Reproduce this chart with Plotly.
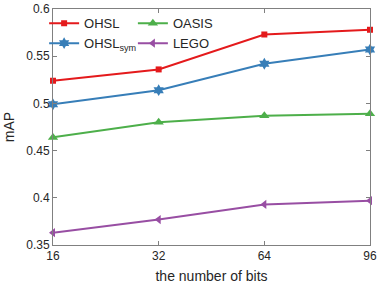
import plotly.graph_objects as go

bits = ["16", "32", "64", "96"]
ohsl = [0.524, 0.536, 0.573, 0.578]
ohsl_sym = [0.499, 0.514, 0.542, 0.557]
oasis = [0.464, 0.480, 0.487, 0.489]
lego = [0.363, 0.377, 0.393, 0.397]
y_ticks = [0.35, 0.4, 0.45, 0.5, 0.55, 0.6]
y_tick_labels = ["0.35", "0.4", "0.45", "0.5", "0.55", "0.6"]

font = "Liberation Sans, Arial, sans-serif"
fig = go.Figure()
series = [
    ("OHSL", ohsl, "#E41A1C", "square", 6, "legend"),
    ("OHSL<sub>sym</sub>", ohsl_sym, "#377EB8", "hexagram", 9, "legend"),
    ("OASIS", oasis, "#4DAF4A", "triangle-up", 9, "legend2"),
    ("LEGO", lego, "#984EA3", "triangle-left", 8, "legend2"),
]
for name, vals, col, sym, sz, lg in series:
    fig.add_trace(go.Scatter(
        x=bits, y=vals, name=name, mode="lines+markers",
        line=dict(color=col, width=2),
        marker=dict(symbol=sym, size=sz, color=col),
        legend=lg, cliponaxis=False,
    ))

axis_common = dict(
    showline=True, linecolor="#808080", linewidth=1, mirror="ticks",
    ticks="inside", ticklen=4, tickcolor="#808080", showgrid=False,
    zeroline=False, tickfont=dict(family=font, size=12, color="#262626"),
    automargin=False,
)
fig.update_xaxes(**axis_common, range=[0.0, 3.0],
                 title=dict(text="the number of bits", font=dict(family=font, size=14, color="#262626"), standoff=8))
fig.update_yaxes(**axis_common, range=[0.35, 0.6], tickvals=y_ticks, ticktext=y_tick_labels,
                 title=dict(text="mAP", font=dict(family=font, size=14, color="#262626"), standoff=8))

leg_common = dict(bgcolor="rgba(0,0,0,0)", borderwidth=0,
                  font=dict(family=font, size=13, color="#262626"),
                  xanchor="left", yanchor="top", tracegroupgap=0, itemwidth=30)
fig.update_layout(
    width=382, height=287,
    margin=dict(l=53, r=12, t=9, b=42, autoexpand=False),
    plot_bgcolor="white", paper_bgcolor="white",
    legend=dict(x=-0.028, y=1.003, **leg_common),
    legend2=dict(x=0.252, y=1.003, **leg_common),
    font=dict(family=font),
)
fig.write_html("out.html", config={"displayModeBar": False},
               post_script="document.body.style.margin='0';document.body.style.overflow='hidden';")
